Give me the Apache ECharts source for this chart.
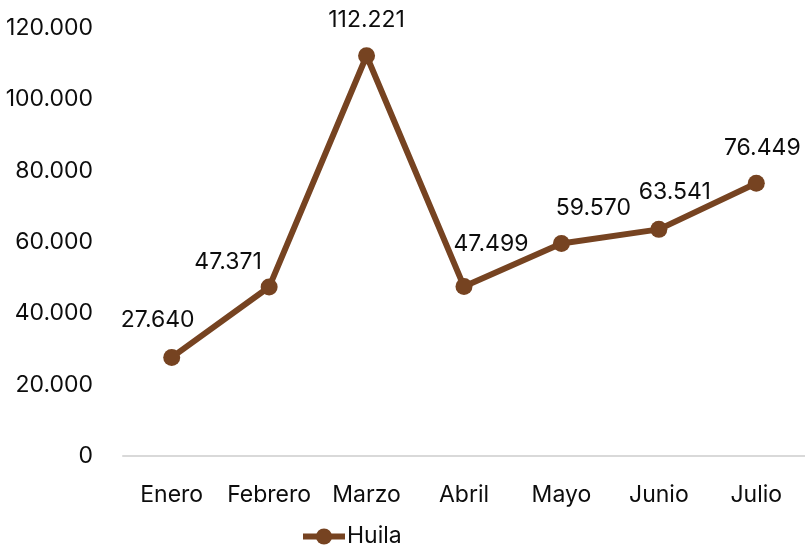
<!DOCTYPE html>
<html>
<head>
<meta charset="utf-8">
<script src="https://cdn.jsdelivr.net/npm/echarts@6/dist/echarts.min.js"></script>
<style>
  html, body { margin: 0; padding: 0; background: #fff; }
  #chart { width: 805px; height: 546px; }
</style>
</head>
<body>
<div id="chart"></div>
<script>
const months = ['Enero', 'Febrero', 'Marzo', 'Abril', 'Mayo', 'Junio', 'Julio'];
const huila = [27640, 47371, 112221, 47499, 59570, 63541, 76449];
const yTicks = [0, 20000, 40000, 60000, 80000, 100000, 120000];

// label nudges, as placed in the original
const labelOffsets = [[-14, -12], [-41, 0], [0, -11], [27, -18], [32, -10], [16, -12], [6, -10]];

const brown = '#764321';
const ink = '#0d0d0d';
const font = 'Inter, "Open Sans", sans-serif';

// 112221 -> "112.221"
const fmt = v => String(v).replace(/\B(?=(\d{3})+(?!\d))/g, '.');

const chart = echarts.init(document.getElementById('chart'));

chart.setOption({
  animation: false,
  textStyle: { fontFamily: font },
  grid: { left: 123, right: 0, top: 28, bottom: 90 },
  legend: {
    left: 300,
    top: 525,
    padding: 0,
    itemWidth: 42,
    itemHeight: 20,
    itemGap: 0,
    lineStyle: { width: 6 },
    textStyle: { color: ink, fontSize: 23, fontFamily: font, padding: [0, 0, 0, -3] },
    data: ['Huila']
  },
  xAxis: {
    type: 'category',
    data: months,
    axisLine: { lineStyle: { color: '#d9d9d9', width: 2 } },
    axisTick: { show: false },
    axisLabel: { color: ink, fontSize: 23, margin: 28, interval: 0 }
  },
  yAxis: {
    type: 'value',
    min: yTicks[0],
    max: yTicks[yTicks.length - 1],
    interval: yTicks[1] - yTicks[0],
    axisLine: { show: false },
    axisTick: { show: false },
    splitLine: { show: false },
    axisLabel: { color: ink, fontSize: 23, margin: 30, formatter: fmt }
  },
  series: [{
    name: 'Huila',
    type: 'line',
    data: huila.map((v, i) => ({
      value: v,
      label: { offset: labelOffsets[i] }
    })),
    symbol: 'circle',
    symbolSize: 17,
    lineStyle: { color: brown, width: 6 },
    itemStyle: { color: brown },
    label: {
      show: true,
      position: 'top',
      color: ink,
      fontSize: 23,
      formatter: p => fmt(p.value)
    }
  }]
});
</script>
</body>
</html>
